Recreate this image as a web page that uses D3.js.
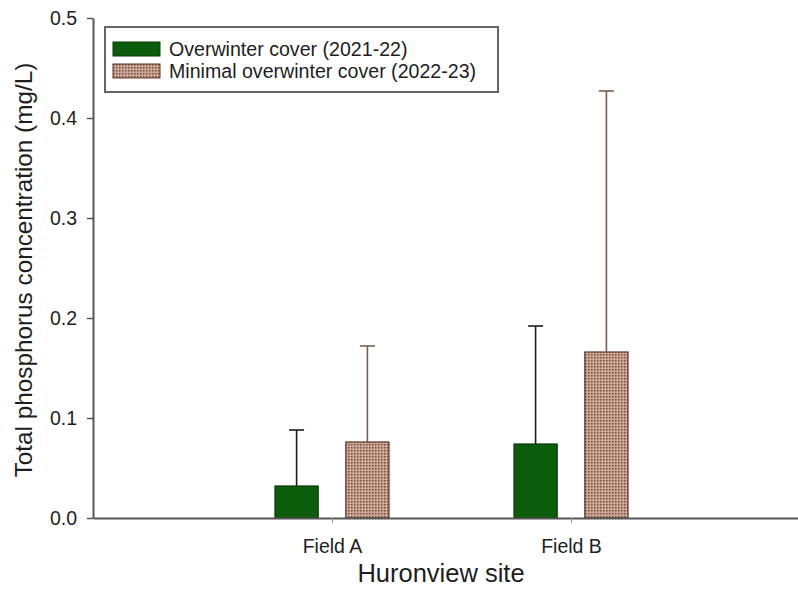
<!DOCTYPE html>
<html>
<head>
<meta charset="utf-8">
<script src="https://cdn.jsdelivr.net/npm/d3@7"></script>
<style>
  body { margin: 0; background: #fff; }
  text { font-family: Arial, "Liberation Sans", sans-serif; fill: #1e1e1e; }
</style>
</head>
<body>
<div id="chart"></div>
<script>
'use strict';

// values
var sites = ["Field A", "Field B"];
var seriesNames = ["Overwinter cover (2021-22)", "Minimal overwinter cover (2022-23)"];
var overwinterMean = [0.032, 0.074];
var overwinterSD = [0.056, 0.118];
var minimalMean = [0.076, 0.166];
var minimalSD = [0.096, 0.261];
var yTicks = [0, 0.1, 0.2, 0.3, 0.4, 0.5];

var width = 798, height = 598;
var margin = {top: 18, right: 0, bottom: 80, left: 93};

var svg = d3.select("#chart").append("svg")
  .attr("width", width)
  .attr("height", height);

// dotted fill for the second series
var defs = svg.append("defs");
var pat = defs.append("pattern")
  .attr("id", "dots")
  .attr("patternUnits", "userSpaceOnUse")
  .attr("width", 3).attr("height", 3);
pat.append("rect").attr("width", 3).attr("height", 3).attr("fill", "#cfa897");
pat.append("rect").attr("width", 1.5).attr("height", 1.5).attr("fill", "#6f4b3d");

var series = [
  {name: seriesNames[0], mean: overwinterMean, sd: overwinterSD, fill: "#0b5c0b", stroke: "#063806", err: "#1e1e1e"},
  {name: seriesNames[1], mean: minimalMean, sd: minimalSD, fill: "url(#dots)", stroke: "#5e3526", err: "#7a5c4e"}
];

var y = d3.scaleLinear().domain([0, 0.5]).range([height - margin.bottom, margin.top]);
var x = d3.scalePoint().domain(sites).range([margin.left, 810]).padding(1);
var x1 = d3.scaleBand().domain(seriesNames).range([-57, 57]).paddingInner(0.39);

// bars
var groups = svg.append("g").selectAll("g")
  .data(series)
  .enter().append("g");

groups.selectAll("rect")
  .data(function(s) { return sites.map(function(site, i) { return {site: site, v: s.mean[i], s: s}; }); })
  .enter().append("rect")
  .attr("x", function(d) { return x(d.site) + x1(d.s.name); })
  .attr("y", function(d) { return y(d.v); })
  .attr("width", x1.bandwidth())
  .attr("height", function(d) { return y(0) - y(d.v); })
  .attr("fill", function(d) { return d.s.fill; })
  .attr("stroke", function(d) { return d.s.stroke; })
  .attr("stroke-width", 1.2);

// error bars (upper only)
var errs = groups.selectAll("g.err")
  .data(function(s) { return sites.map(function(site, i) { return {site: site, v: s.mean[i], e: s.sd[i], s: s}; }); })
  .enter().append("g").attr("class", "err");

errs.append("line")
  .attr("x1", function(d) { return x(d.site) + x1(d.s.name) + x1.bandwidth() / 2; })
  .attr("x2", function(d) { return x(d.site) + x1(d.s.name) + x1.bandwidth() / 2; })
  .attr("y1", function(d) { return y(d.v); })
  .attr("y2", function(d) { return y(d.v + d.e); })
  .attr("stroke", function(d) { return d.s.err; })
  .attr("stroke-width", 1.6);

errs.append("line")
  .attr("x1", function(d) { return x(d.site) + x1(d.s.name) + x1.bandwidth() / 2 - 7.5; })
  .attr("x2", function(d) { return x(d.site) + x1(d.s.name) + x1.bandwidth() / 2 + 7.5; })
  .attr("y1", function(d) { return y(d.v + d.e); })
  .attr("y2", function(d) { return y(d.v + d.e); })
  .attr("stroke", function(d) { return d.s.err; })
  .attr("stroke-width", 1.6);

// axes
var yAxis = svg.append("g")
  .attr("transform", "translate(" + margin.left + ",0)")
  .call(d3.axisLeft(y).tickValues(yTicks).tickFormat(d3.format(".1f")).tickSize(6).tickSizeOuter(0).tickPadding(10));
yAxis.selectAll("text").style("font-size", "19.5px");
yAxis.selectAll("line").attr("stroke", "#555").attr("stroke-width", 1.5);
yAxis.select(".domain").attr("stroke", "#555").attr("stroke-width", 2);

var xAxis = svg.append("g")
  .attr("transform", "translate(0," + y(0) + ")")
  .call(d3.axisBottom(x).tickSize(5).tickSizeOuter(0).tickPadding(16));
xAxis.selectAll("text").style("font-size", "19.5px");
xAxis.selectAll("line").attr("stroke", "#999").attr("stroke-width", 1);
xAxis.select(".domain").attr("stroke", "#555").attr("stroke-width", 2);

// axis titles
svg.append("text")
  .attr("x", 441)
  .attr("y", 582)
  .attr("text-anchor", "middle")
  .style("font-size", "25.5px")
  .text("Huronview site");

svg.append("text")
  .attr("transform", "translate(32,270) rotate(-90)")
  .attr("text-anchor", "middle")
  .style("font-size", "24.3px")
  .text("Total phosphorus concentration (mg/L)");

// legend
var legend = svg.append("g");
legend.append("rect")
  .attr("x", 105).attr("y", 27)
  .attr("width", 393).attr("height", 65)
  .attr("fill", "#fff")
  .attr("stroke", "#666")
  .attr("stroke-width", 2);

var items = legend.selectAll("g.item")
  .data(series)
  .enter().append("g")
  .attr("class", "item")
  .attr("transform", function(d, i) { return "translate(113," + (42 + i * 22) + ")"; });

items.append("rect")
  .attr("width", 47).attr("height", 14)
  .attr("fill", function(d) { return d.fill; })
  .attr("stroke", function(d) { return d.stroke; })
  .attr("stroke-width", 1);

items.append("text")
  .attr("x", 56)
  .attr("y", 14)
  .style("font-size", "19.6px")
  .text(function(d) { return d.name; });
</script>
</body>
</html>
